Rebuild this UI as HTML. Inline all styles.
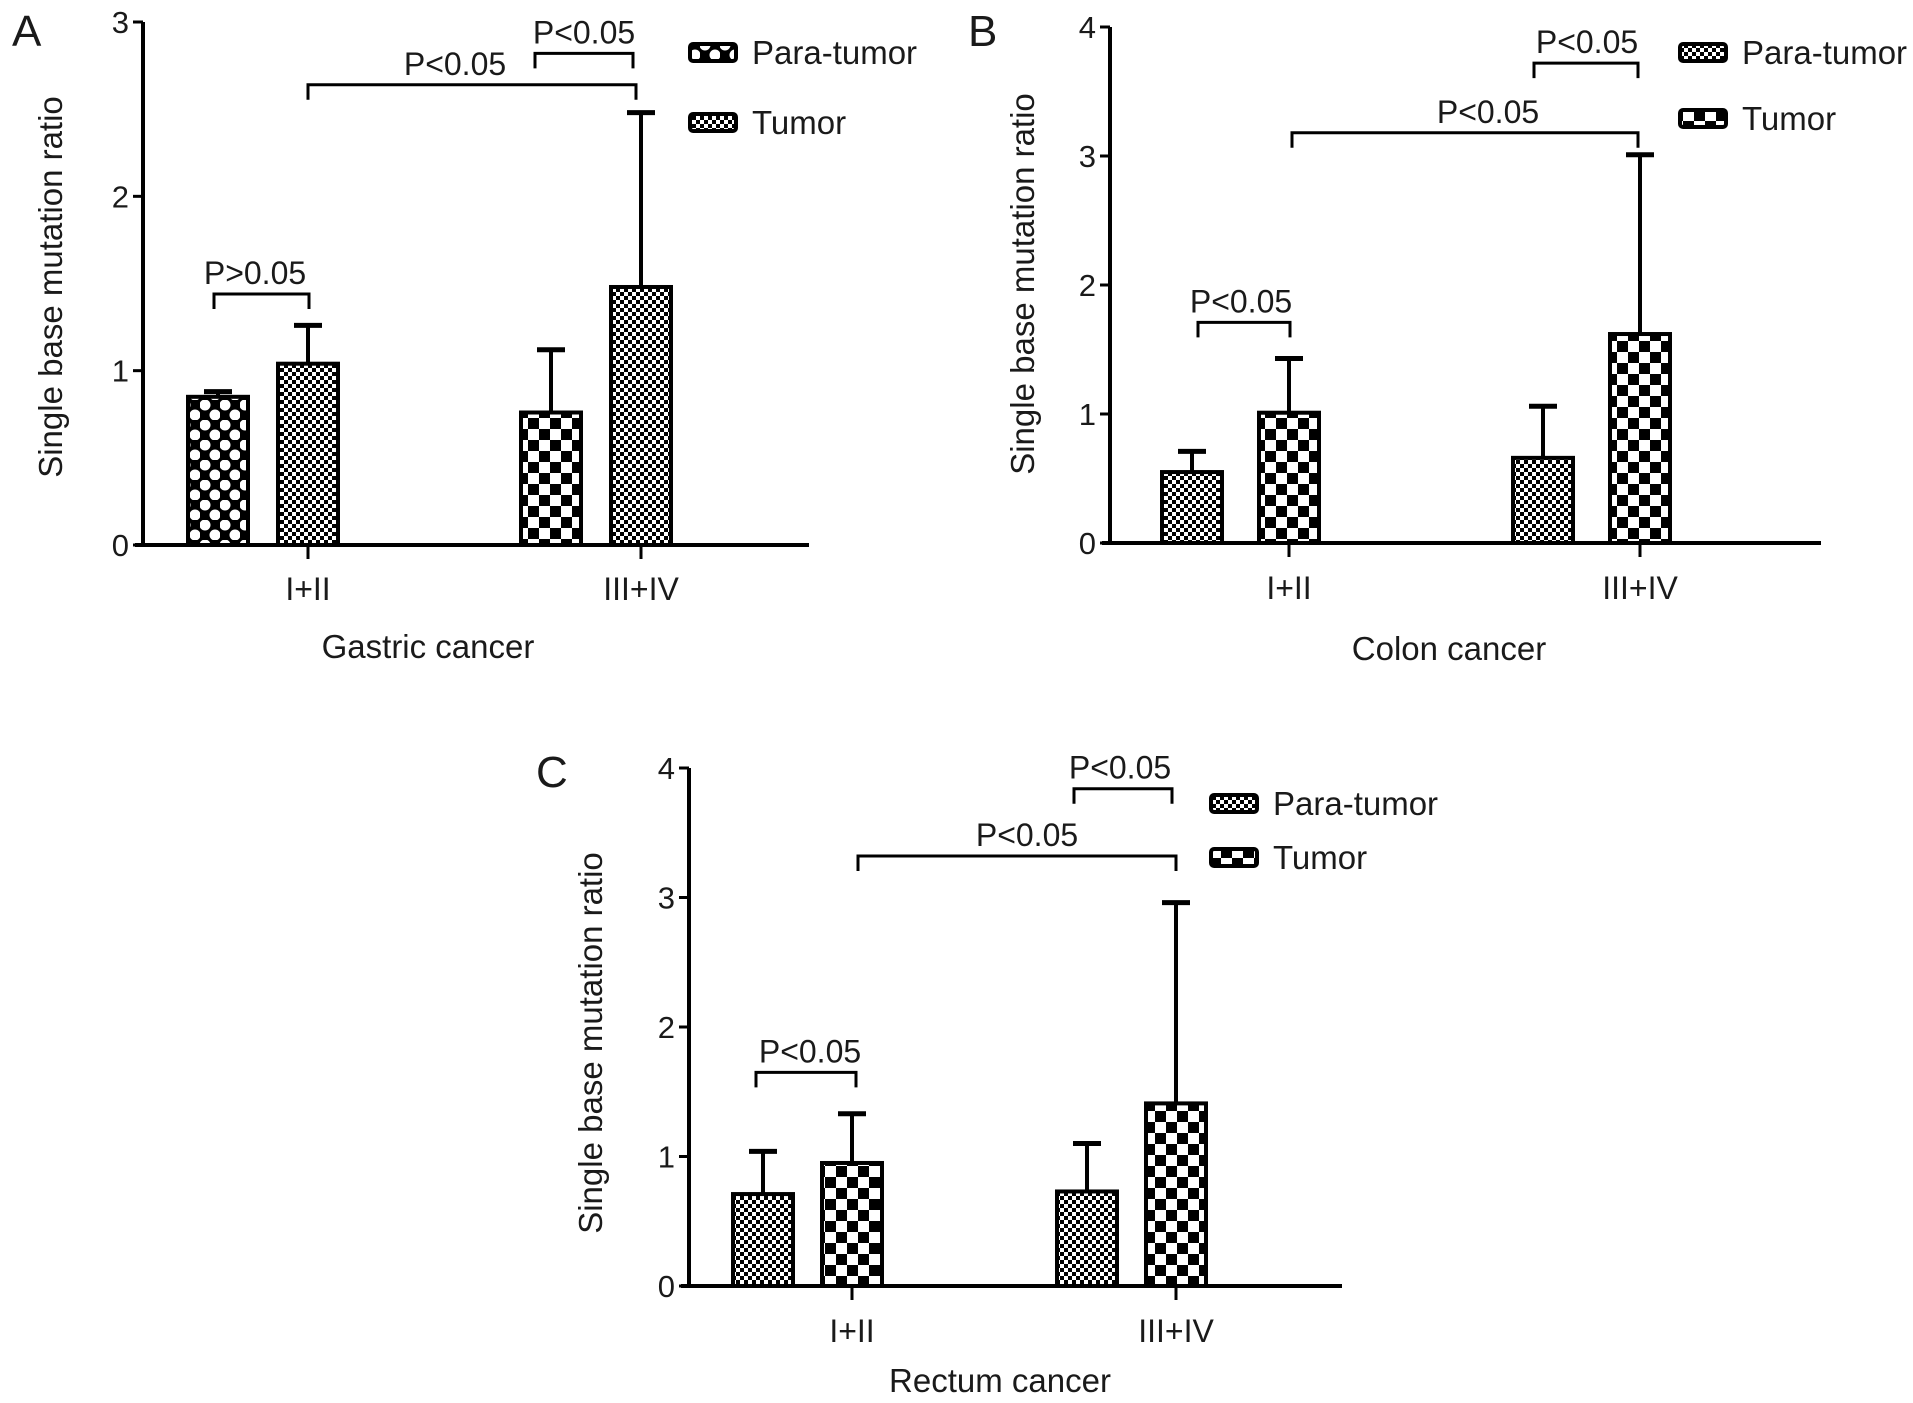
<!DOCTYPE html>
<html><head><meta charset="utf-8">
<style>
html,body{margin:0;padding:0;background:#fff;}
svg{display:block;font-family:"Liberation Sans",Arial,sans-serif;}
text{fill:#1a1a1a;}
</style></head>
<body>
<svg id="fig" width="1913" height="1403" viewBox="0 0 1913 1403" xmlns="http://www.w3.org/2000/svg">
<defs>
  <pattern id="pat-checker" width="22" height="22" patternUnits="userSpaceOnUse">
    <rect width="22" height="22" fill="#fff"/>
    <rect width="11" height="11" fill="#000"/><rect x="11" y="11" width="11" height="11" fill="#000"/>
  </pattern>
  <pattern id="pat-fine" width="8" height="8" patternUnits="userSpaceOnUse">
    <rect width="8" height="8" fill="#fff"/>
    <rect width="4" height="4" fill="#000"/><rect x="4" y="4" width="4" height="4" fill="#000"/>
  </pattern>
  <pattern id="pat-dots" width="20" height="20" patternUnits="userSpaceOnUse">
    <rect width="20" height="20" fill="#000"/>
    <circle cx="5" cy="5" r="5.5" fill="#fff"/><circle cx="15" cy="15" r="5.5" fill="#fff"/>
  </pattern>
</defs>
</svg>
<script>
// ---- data ----
const categories = ["I+II", "III+IV"];
const seriesNames = ["Para-tumor", "Tumor"];
const gastricPara = [0.85, 0.76];
const gastricParaErr = [0.88, 1.12];
const gastricTumor = [1.04, 1.48];
const gastricTumorErr = [1.26, 2.48];
const colonPara = [0.55, 0.66];
const colonParaErr = [0.71, 1.06];
const colonTumor = [1.01, 1.62];
const colonTumorErr = [1.43, 3.01];
const rectumPara = [0.71, 0.73];
const rectumParaErr = [1.04, 1.10];
const rectumTumor = [0.95, 1.41];
const rectumTumorErr = [1.33, 2.96];
const ticksA = [0, 1, 2, 3];
const ticksBC = [0, 1, 2, 3, 4];
const pLabelsA = ["P>0.05", "P<0.05", "P<0.05"];
const pLabelsB = ["P<0.05", "P<0.05", "P<0.05"];
const pLabelsC = ["P<0.05", "P<0.05", "P<0.05"];

const NS = "http://www.w3.org/2000/svg";
const svg = document.getElementById("fig");
function mk(tag, attrs, parent) {
  const e = document.createElementNS(NS, tag);
  for (const k in attrs) e.setAttribute(k, attrs[k]);
  (parent || svg).appendChild(e);
  return e;
}

function drawPanel(p) {
  const g = mk("g", {});
  
  
  const y = v => p.y0 - (v / p.ymax) * (p.y0 - p.yTop);
  const xc = i => p.cx[i];
  const yAxis = mk("line", {x1: p.ax, y1: p.yTop, x2: p.ax, y2: p.y0 + 2, stroke: "#000", "stroke-width": 4}, g);
  
  
  const xAxis = mk("line", {x1: p.ax - 8, y1: p.y0, x2: p.axEnd, y2: p.y0, stroke: "#000", "stroke-width": 4}, g);
  
  
  p.ticks.forEach(t => {
    mk("line", {x1: p.ax - 10, y1: y(t), x2: p.ax, y2: y(t), stroke: "#000", "stroke-width": 3}, g);
    const tl = mk("text", {x: p.ax - 14, y: y(t) + 11, "text-anchor": "end", "font-size": 31}, g);
    tl.textContent = t;
    
    
  });
  categories.forEach((c, i) => {
    mk("line", {x1: xc(i), y1: p.y0, x2: xc(i), y2: p.y0 + 14, stroke: "#000", "stroke-width": 3}, g);
    const cl = mk("text", {x: xc(i), y: p.catY, "text-anchor": "middle", "font-size": 32}, g);
    cl.textContent = c;
    
    
  });
  const series = [[p.para, p.paraErr, -p.off], [p.tumor, p.tumorErr, 0]];
  series.forEach((s, si) => {
    categories.forEach((c, i) => {
      const cx = xc(i) + s[2];
      const top = y(s[0][i]);
      const eTop = y(s[1][i]);
      const el = mk("line", {x1: cx, y1: top, x2: cx, y2: eTop, stroke: "#000", "stroke-width": 4}, g);
      
      
      mk("line", {x1: cx - 14, y1: eTop, x2: cx + 14, y2: eTop, stroke: "#000", "stroke-width": 5}, g);
      const r = mk("rect", {x: cx - 30, y: top, width: 60, height: p.y0 - top, fill: "url(#" + p.pats[si][i] + ")", stroke: "#000", "stroke-width": 4}, g);
      
      
    });
  });
  p.brackets.forEach((b, bi) => {
    const x1 = b[0], x2 = b[1], by = y(b[2]);
    const br = mk("path", {d: `M${x1},${by + 15} V${by} H${x2} V${by + 15}`, fill: "none", stroke: "#000", "stroke-width": 3}, g);
    
    
    const t = mk("text", {x: b[3], y: by - 10, "text-anchor": "middle", "font-size": 32}, g);
    t.textContent = p.pLabels[bi];
    
    
  });
  seriesNames.forEach((n, i) => {
    const ly = p.legY[i];
    const lb = mk("rect", {x: p.legX, y: ly - 8, width: 46, height: 17, rx: 3, fill: "url(#" + p.legPats[i] + ")", stroke: "#000", "stroke-width": 4}, g);
    
    
    const lt = mk("text", {x: p.legX + 62, y: ly + 12, "font-size": 33}, g);
    lt.textContent = n;
    
    
  });
  const letter = mk("text", {x: p.letter[0], y: p.letter[1], "font-size": 44}, g);
  letter.textContent = p.id;
  
  
  const yt = mk("text", {x: 0, y: 0, "text-anchor": "middle", "font-size": 33, transform: `translate(${p.ytitle[0]},${p.ytitle[1]}) rotate(-90)`}, g);
  yt.textContent = "Single base mutation ratio";
  
  
  const xt = mk("text", {x: p.xtitle[0], y: p.xtitle[1], "text-anchor": "middle", "font-size": 33}, g);
  xt.textContent = p.xTitle;
  
  
}

drawPanel({id: "A", ax: 143, axEnd: 809, y0: 545, yTop: 22, ymax: 3, ticks: ticksA, cx: [308, 641], off: 90,
  para: gastricPara, paraErr: gastricParaErr, tumor: gastricTumor, tumorErr: gastricTumorErr,
  pats: [["pat-dots", "pat-checker"], ["pat-fine", "pat-fine"]], legPats: ["pat-dots", "pat-fine"],
  brackets: [[214, 309, 1.44, 255], [308, 636, 2.64, 455], [535, 633, 2.82, 584]], pLabels: pLabelsA,
  legX: 690, legY: [52, 122], letter: [12, 46], ytitle: [62, 287], xtitle: [428, 658], catY: 600, xTitle: "Gastric cancer"});
drawPanel({id: "B", ax: 1110, axEnd: 1821, y0: 543, yTop: 27, ymax: 4, ticks: ticksBC, cx: [1289, 1640], off: 97,
  para: colonPara, paraErr: colonParaErr, tumor: colonTumor, tumorErr: colonTumorErr,
  pats: [["pat-fine", "pat-fine"], ["pat-checker", "pat-checker"]], legPats: ["pat-fine", "pat-checker"],
  brackets: [[1198, 1290, 1.71, 1241], [1292, 1638, 3.18, 1488], [1534, 1638, 3.72, 1587]], pLabels: pLabelsB,
  legX: 1680, legY: [52, 118], letter: [968, 46], ytitle: [1034, 284], xtitle: [1449, 660], catY: 599, xTitle: "Colon cancer"});
drawPanel({id: "C", ax: 689, axEnd: 1342, y0: 1286, yTop: 768, ymax: 4, ticks: ticksBC, cx: [852, 1176], off: 89,
  para: rectumPara, paraErr: rectumParaErr, tumor: rectumTumor, tumorErr: rectumTumorErr,
  pats: [["pat-fine", "pat-fine"], ["pat-checker", "pat-checker"]], legPats: ["pat-fine", "pat-checker"],
  brackets: [[756, 856, 1.65, 810], [858, 1176, 3.32, 1027], [1074, 1172, 3.84, 1120]], pLabels: pLabelsC,
  legX: 1211, legY: [803, 857], letter: [536, 787], ytitle: [602, 1043], xtitle: [1000, 1392], catY: 1342, xTitle: "Rectum cancer"});
</script>
</body></html>
